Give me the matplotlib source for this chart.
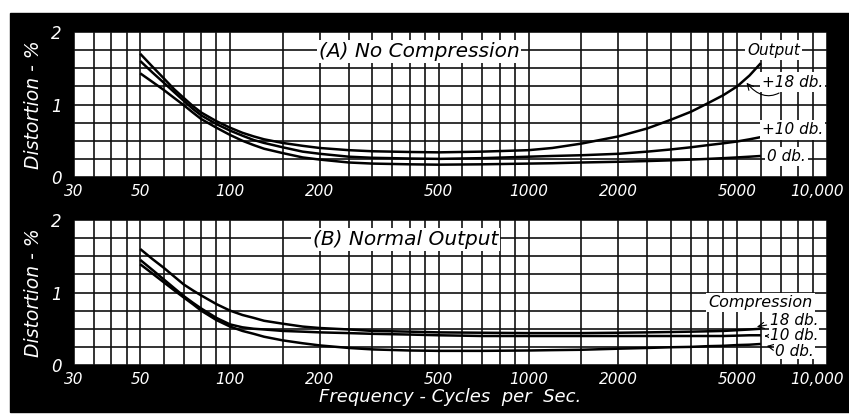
import matplotlib
matplotlib.use("Agg")
import matplotlib.pyplot as plt
from matplotlib.patches import Rectangle
from matplotlib.transforms import ScaledTranslation

# frequencies (Hz)
freq = [50, 55, 60, 65, 70, 75, 80, 90, 100, 110, 120, 130, 150, 175, 200, 250, 300, 400, 500,
        700, 1000, 1200, 1500, 2000, 2500, 3000, 3500, 4000, 4500, 5000, 5500, 6000]

# (A) no compression, distortion %
a_18db = [1.70, 1.52, 1.36, 1.21, 1.09, 0.98, 0.89, 0.77, 0.68, 0.61, 0.56, 0.52, 0.47, 0.43, 0.40, 0.37,
          0.355, 0.345, 0.34, 0.35, 0.37, 0.40, 0.46, 0.56, 0.67, 0.79, 0.90, 1.02, 1.13, 1.25, 1.40, 1.57]
a_10db = [1.60, 1.44, 1.30, 1.17, 1.05, 0.94, 0.85, 0.73, 0.64, 0.57, 0.51, 0.47, 0.41, 0.35, 0.32, 0.28,
          0.265, 0.255, 0.25, 0.26, 0.28, 0.29, 0.30, 0.32, 0.35, 0.38, 0.41, 0.44, 0.465, 0.49, 0.52, 0.55]
a_0db = [1.43, 1.31, 1.20, 1.09, 0.99, 0.89, 0.80, 0.68, 0.58, 0.50, 0.44, 0.39, 0.33, 0.27, 0.24, 0.20,
         0.185, 0.175, 0.17, 0.175, 0.185, 0.19, 0.20, 0.21, 0.22, 0.23, 0.24, 0.25, 0.26, 0.27, 0.28, 0.29]

# (B) normal output, distortion %
b_18db = [1.60, 1.46, 1.34, 1.22, 1.11, 1.03, 0.96, 0.84, 0.75, 0.69, 0.65, 0.61, 0.57, 0.53, 0.51, 0.49,
          0.47, 0.46, 0.45, 0.445, 0.44, 0.44, 0.44, 0.445, 0.45, 0.455, 0.46, 0.465, 0.47, 0.48, 0.49, 0.50]
b_10db = [1.45, 1.31, 1.18, 1.06, 0.95, 0.86, 0.78, 0.65, 0.56, 0.52, 0.50, 0.49, 0.47, 0.46, 0.45, 0.44,
          0.43, 0.42, 0.41, 0.40, 0.40, 0.40, 0.40, 0.40, 0.40, 0.40, 0.40, 0.40, 0.40, 0.405, 0.41, 0.41]
b_0db = [1.39, 1.26, 1.14, 1.03, 0.93, 0.84, 0.75, 0.62, 0.53, 0.47, 0.43, 0.39, 0.34, 0.30, 0.27, 0.235,
         0.215, 0.20, 0.195, 0.195, 0.20, 0.205, 0.21, 0.225, 0.235, 0.245, 0.25, 0.26, 0.265, 0.275, 0.28, 0.29]

tick_f = [30, 50, 100, 200, 500, 1000, 2000, 5000, 10000]
tick_lbl = ["30", "50", "100", "200", "500", "1000", "2000", "5000", "10,000"]
grid_f = [35, 40, 45, 60, 70, 80, 90, 150, 250, 300, 350, 400, 450, 600, 700, 800, 900,
          1500, 2500, 3000, 3500, 4000, 4500, 6000, 7000, 8000, 9000]
y_ticks = [0, 1, 2]
y_grid = [0.25, 0.5, 0.75, 1.25, 1.5, 1.75]

W, H = 849, 418
fig = plt.figure(figsize=(W / 100, H / 100), dpi=100)
fig.patch.set_facecolor("white")
fig.add_artist(Rectangle((10 / W, 1 - 412 / H), (W - 10) / W, 399 / H,
                         transform=fig.transFigure, color="black", zorder=-5))

FONT = dict(family="DejaVu Sans", style="italic")


def setup(ax):
    ax.set_facecolor("white")
    ax.set_xscale("log")
    ax.set_xlim(30, 10000)
    ax.set_ylim(0, 2)
    for s in ax.spines.values():
        s.set_visible(False)
    ax.set_xticks(tick_f)
    ax.set_xticklabels(tick_lbl, color="white", fontsize=11, **FONT)
    ax.set_xticks(grid_f, minor=True)
    ax.set_xticklabels([], minor=True)
    ax.set_yticks(y_ticks)
    ax.set_yticklabels([str(v) for v in y_ticks], color="white", fontsize=12, **FONT)
    ax.set_yticks(y_grid, minor=True)
    ax.tick_params(which="both", length=0)
    ax.tick_params(axis="x", pad=5)
    ax.tick_params(axis="y", pad=9)
    ax.grid(which="both", color="#111111", lw=1.2)
    ax.set_axisbelow(True)
    ax.set_ylabel("Distortion - %", color="white", fontsize=13.5, labelpad=6, **FONT)
    # last label sits a bit inside the edge, as in the original
    lab = ax.get_xticklabels()[-1]
    lab.set_transform(lab.get_transform() + ScaledTranslation(-10 / 100, 0, fig.dpi_scale_trans))


def curves(ax, ys):
    for y in ys:
        ax.plot(freq, y, color="black", lw=1.8, solid_capstyle="butt", zorder=3)


box = dict(facecolor="white", edgecolor="none", pad=1.5)

# top panel
ax1 = fig.add_axes([74 / W, 1 - 177 / H, 753 / W, 145 / H])
setup(ax1)
curves(ax1, [a_18db, a_10db, a_0db])
ax1.text(0.325, 0.865, "(A) No Compression", transform=ax1.transAxes, fontsize=14.5,
         va="center", ha="left", bbox=box, zorder=4, **FONT)
ax1.text(5400, 1.75, "Output", fontsize=11, va="center", ha="left", bbox=box, zorder=4, **FONT)
ax1.annotate("+18 db.", xy=(5300, 1.33), xytext=(6050, 1.31), fontsize=11,
             va="center", ha="left", bbox=box, zorder=4,
             arrowprops=dict(arrowstyle="->", color="black", lw=0.8,
                             connectionstyle="arc3,rad=-0.6"), **FONT)
ax1.text(6050, 0.65, "+10 db.", fontsize=11, va="center", ha="left", bbox=box, zorder=4, **FONT)
ax1.text(6300, 0.28, "0 db.", fontsize=11, va="center", ha="left", bbox=box, zorder=4, **FONT)

# bottom panel
ax2 = fig.add_axes([74 / W, 1 - 365 / H, 753 / W, 145 / H])
setup(ax2)
curves(ax2, [b_18db, b_10db, b_0db])
ax2.text(0.317, 0.865, "(B) Normal Output", transform=ax2.transAxes, fontsize=14.5,
         va="center", ha="left", bbox=box, zorder=4, **FONT)
ax2.text(4000, 0.86, "Compression", fontsize=11.5, va="center", ha="left", bbox=box, zorder=4, **FONT)
kw = dict(fontsize=11, va="center", ha="left", bbox=dict(facecolor="white", edgecolor="none", pad=0.5),
          zorder=4, **FONT)
ax2.annotate("18 db.", xy=(5700, 0.52), xytext=(6450, 0.62),
             arrowprops=dict(arrowstyle="->", color="black", lw=0.8), **kw)
ax2.annotate("10 db.", xy=(6050, 0.40), xytext=(6450, 0.40),
             arrowprops=dict(arrowstyle="->", color="black", lw=0.8), **kw)
ax2.annotate("0 db.", xy=(6150, 0.27), xytext=(6700, 0.19),
             arrowprops=dict(arrowstyle="->", color="black", lw=0.8), **kw)
ax2.set_xlabel("Frequency - Cycles  per  Sec.", color="white", fontsize=13, labelpad=1, **FONT)

fig.savefig("out.png", dpi=100, facecolor=fig.get_facecolor())
